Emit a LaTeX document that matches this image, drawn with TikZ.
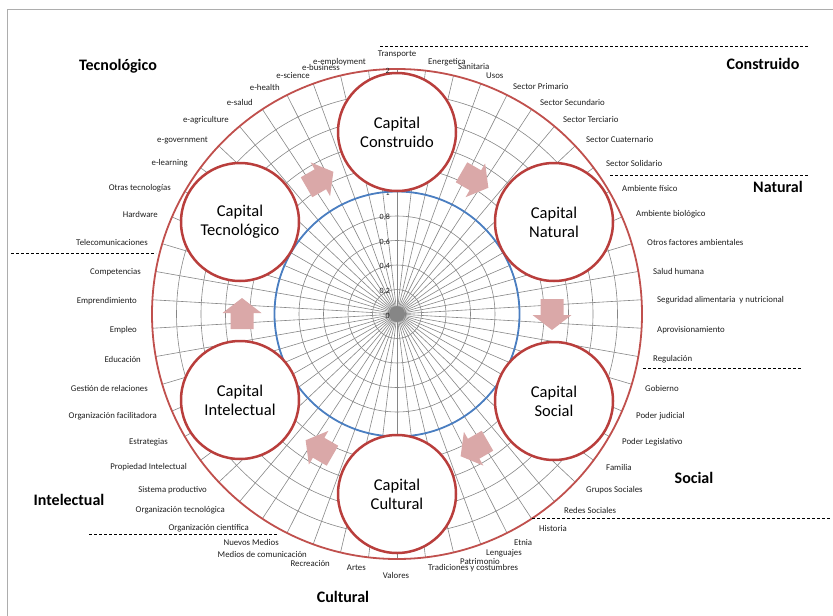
\documentclass[tikz,border=0pt]{standalone}
\usepackage{fontspec}
\setmainfont{Carlito}
\usetikzlibrary{calc}
\definecolor{ringred}{RGB}{192,80,77}
\definecolor{capred}{RGB}{185,62,60}
\definecolor{ringblue}{RGB}{74,126,193}
\definecolor{gridgray}{RGB}{134,134,134}
\definecolor{arrowpink}{RGB}{218,168,168}
\definecolor{labelgray}{RGB}{30,30,30}
\begin{document}
\begin{tikzpicture}[x=1pt,y=-1pt,
  item/.style={font=\fontsize{8.8}{10}\selectfont, text=labelgray, inner sep=0pt},
  group/.style={font=\fontsize{16}{18}\selectfont\bfseries, inner sep=0pt},
  capital/.style={circle, draw=capred, line width=2.5pt, fill=white, minimum size=118pt,
    inner sep=0pt, align=center, font=\fontsize{16.5}{19}\selectfont},
  flow/.style={fill=arrowpink, draw=none},
  divider/.style={dash pattern=on 3pt off 2pt, line width=0.8pt},
  tick/.style={font=\fontsize{8}{9}\selectfont, inner sep=0pt, anchor=east, text=labelgray},
  gridline/.style={gridgray, line width=0.6pt}
]
\useasboundingbox (0,0) rectangle (833,616);
% frame edges
\coordinate (fa) at (7,616); \coordinate (fb) at (7,9); \coordinate (fc) at (833,9);
\draw[black!32, line width=1pt] (fa) -- (fb) -- (fc);

\coordinate (c) at (397,314);
% concentric grid rings (0.2 steps)
\foreach \i in {1,...,9}
  \draw[gridline] (c) circle [radius={\i*24.5pt}];
% 54 category spokes
\foreach \k in {0,...,53} {
  \coordinate (s\k) at ($(c)+({90-\k*20/3}:245pt)$);
  \draw[gridline] (c) -- (s\k);
}
\fill[gridgray] (c) circle [radius=8pt];

% value axis labels
\foreach \v/\t [count=\n] in {0/0, 1/{0,2}, 2/{0,4}, 3/{0,6}, 4/{0,8}, 5/1}
  \node[tick] (v\n) at (390,{315.5-24.5*\v}) {\t};

% series at 1 and at 2
\draw[ringblue, line width=1.8pt] (c) circle [radius=122.5pt];
\draw[ringred, line width=1.8pt] (c) circle [radius=245pt];

% flow arrows between the capitals (clockwise)
\foreach \a in {0,60,120,180,240,300}
  \fill[flow, shift={($(c)+(\a:155pt)$)}, rotate=\a-90]
    (-15pt,-11.5pt) -- (1pt,-11.5pt) -- (1pt,-19.5pt) -- (16pt,0pt)
    -- (1pt,19.5pt) -- (1pt,11.5pt) -- (-15pt,11.5pt) -- cycle;

% capitals
\node[capital] (cons) at (397,132) {Capital\\Construido};
\node[capital] (nat)  at (554,222) {Capital\\Natural};
\node[capital] (soc)  at (554,401) {Capital\\Social};
\node[capital] (cul)  at (397,494) {Capital\\Cultural};
\node[capital] (int)  at (240,400) {Capital\\Intelectual};
\node[capital] (tec)  at (240,222) {Capital\\Tecnológico};

\node[tick] (vmax) at (390,71) {2};

% category labels, right half
\node[item] (top) at (397,54) {Transporte};
\node[item] (bot) at (396,575) {Valores};
\foreach \px/\py/\t [count=\n] in {
  428/62/Energetica, 458/67/Sanitaria, 486/76/Usos, 513/87/Sector Primario,
  540/102/Sector Secundario, 563/120/Sector Terciario, 586/140/Sector Cuaternario,
  606/163/Sector Solidario, 622/188/Ambiente físico, 636/214/Ambiente biológico,
  647/242/Otros factores ambientales, 653/271/Salud humana,
  657/300/Seguridad alimentaria\ \ y nutricional, 657/330/Aprovisionamiento,
  653/359/Regulación, 645/388/Gobierno, 636/416/Poder judicial,
  622/442/Poder Legislativo, 606/467/Familia, 586/490/Grupos Sociales,
  564/510/Redes Sociales, 539/528/Historia, 514/542/Etnia, 486/553/Lenguajes,
  460/561/Patrimonio, 428/568/Tradiciones y costumbres}
  \node[item, anchor=west] (r\n) at (\px,\py) {\t};

% category labels, left half
\foreach \px/\py/\t [count=\n] in {
  366/62/e-employment, 340/67/e-business, 310/76/e-science, 280/87/e-health,
  253/102/e-salud, 229/120/e-agriculture, 208/140/e-government, 188/163/e-learning,
  171/188/Otras tecnologías, 158/214/Hardware, 148/242/Telecomunicaciones,
  141/272/Competencias, 137/301/Emprendimiento, 137/330/Empleo, 141/359/Educación,
  148/388/Gestión de relaciones, 157/416/Organización facilitadora,
  168/442/Estrategias, 187/467/Propiedad Intelectual, 207/490/Sistema productivo,
  225/510/Organización tecnológica, 249/528/Organización científica,
  279/542/Nuevos Medios, 307/554/Medios de comunicación, 330/563/Recreación,
  366/568/Artes}
  \node[item, anchor=east] (l\n) at (\px,\py) {\t};

% group titles
\node[group] (gtec) at (118,66)  {Tecnológico};
\node[group] (gcon) at (763,64)  {Construido};
\node[group] (gnat) at (778,187) {Natural};
\node[group] (gsoc) at (694,478) {Social};
\node[group] (gint) at (69,500)  {Intelectual};
\node[group] (gcul) at (343,597) {Cultural};

% group dividers
\coordinate (d1a) at (380,46);  \coordinate (d1b) at (808,46);
\coordinate (d2a) at (610,175); \coordinate (d2b) at (808,175);
\coordinate (d3a) at (643,368); \coordinate (d3b) at (802,368);
\coordinate (d4a) at (532,518); \coordinate (d4b) at (830,518);
\coordinate (d5a) at (89,534);  \coordinate (d5b) at (277,534);
\coordinate (d6a) at (11,253);  \coordinate (d6b) at (156,253);
\foreach \d in {1,...,6}
  \draw[divider] (d\d a) -- (d\d b);
\end{tikzpicture}
\end{document}
